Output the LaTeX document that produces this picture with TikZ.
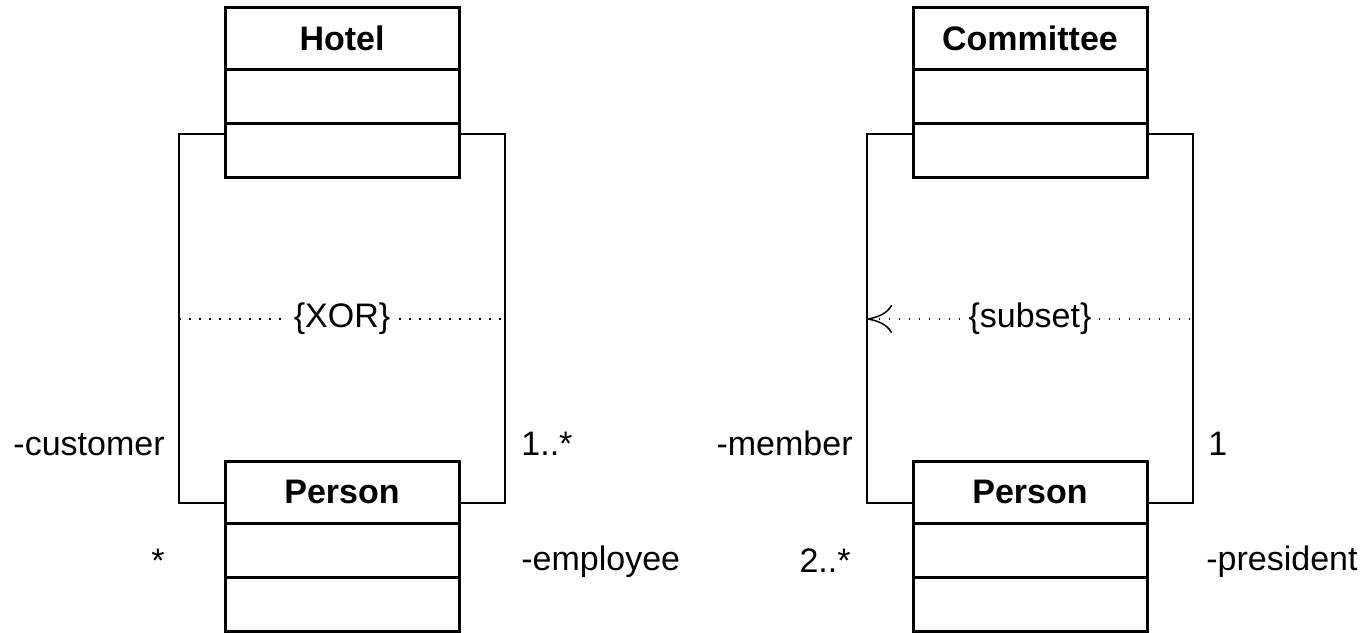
\documentclass[tikz,border=0pt]{standalone}
\usepackage{fontspec}
\setmainfont{Liberation Sans}
\usetikzlibrary{arrows.meta,calc}
\begin{document}
\begin{tikzpicture}[x=0.5pt,y=-0.5pt,
  cls/.style={draw,line width=1.5pt,minimum width=117pt,minimum height=31pt,inner sep=0pt,outer sep=0pt,anchor=north west,font=\fontsize{17}{20}\selectfont\bfseries},
  comp/.style={draw,line width=1.5pt,minimum width=117pt,minimum height=27pt,inner sep=0pt,outer sep=0pt,anchor=north west},
  assoc/.style={line width=0.7pt},
  constr/.style={line width=0.75pt,dash pattern=on 0.75pt off 4.25pt},
  lbl/.style={font=\fontsize{17}{20}\selectfont,inner sep=0pt},
  clbl/.style={font=\fontsize{17}{20}\selectfont,inner sep=0pt,inner xsep=4pt,fill=white}]
\useasboundingbox (0,0) rectangle (1368,632);

% left class pair
\node[cls] (hotel) at (225,7) {Hotel};
\node[comp] (hotelA) at (hotel.south west) {};
\node[comp] (hotelO) at (hotelA.south west) {};
\node[cls] (person) at (225,461) {Person};
\node[comp] (personA) at (person.south west) {};
\node[comp] (personO) at (personA.south west) {};

% right class pair
\node[cls] (committee) at (913,7) {Committee};
\node[comp] (committeeA) at (committee.south west) {};
\node[comp] (committeeO) at (committeeA.south west) {};
\node[cls] (personB) at (913,461) {Person};
\node[comp] (personBA) at (personB.south west) {};
\node[comp] (personBO) at (personBA.south west) {};

% associations
\draw[assoc] ($(hotelO.north west)+(0,11)$) -- ++(-46,0) |- ($(person.south west)+(0,-20)$);
\draw[assoc] ($(hotelO.north east)+(0,11)$) -- ++(46,0) |- ($(person.south east)+(0,-20)$);
\draw[assoc] ($(committeeO.north west)+(0,11)$) -- ++(-46,0) |- ($(personB.south west)+(0,-20)$);
\draw[assoc] ($(committeeO.north east)+(0,11)$) -- ++(46,0) |- ($(personB.south east)+(0,-20)$);

% constraints
\coordinate (xorL) at (179,319);
\coordinate (xorR) at (505,319);
\draw[constr] (xorL) -- node[clbl] {\{XOR\}} (xorR);
\coordinate (subL) at (867,319);
\coordinate (subR) at (1193,319);
\draw[constr,{Computer Modern Rightarrow[length=12.5pt,width=14pt]}-] (subL) -- node[clbl] {\{subset\}} (subR);

% role names and multiplicities
\node[lbl,anchor=base east] (customer) at (165,455) {-customer};
\node[lbl,anchor=base west] (multA) at (521,455) {1..*};
\node[lbl,anchor=base east] (multB) at (165,572) {*};
\node[lbl,anchor=base west] (employee) at (521,570) {-employee};
\node[lbl,anchor=base east] (member) at (853,455) {-member};
\node[lbl,anchor=base west] (multC) at (1208,455) {1};
\node[lbl,anchor=base east] (multD) at (851,572) {2..*};
\node[lbl,anchor=base west] (president) at (1206,570) {-president};
\end{tikzpicture}
\end{document}
